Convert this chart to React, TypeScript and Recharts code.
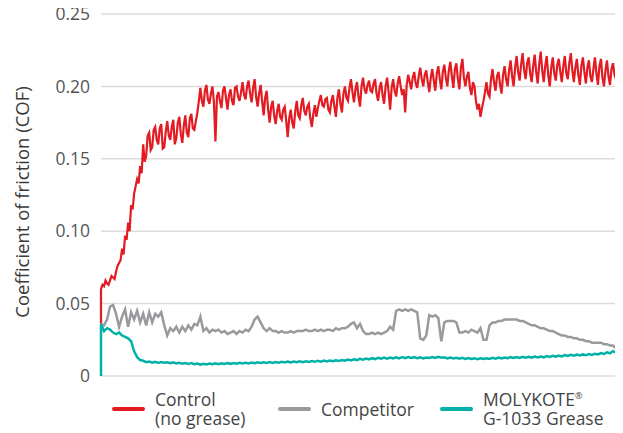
import { LineChart, Line, XAxis, YAxis, CartesianGrid } from "recharts";

// control (no grease): read at half-sample steps; first entry is the start value at t = 0
const control = [
  0.036,
  0.06, 0.063, 0.062, 0.066, 0.064, 0.063, 0.066, 0.069, 0.068, 0.067,
  0.072, 0.076, 0.078, 0.08, 0.088, 0.084, 0.097, 0.094, 0.106, 0.1,
  0.118, 0.115, 0.126, 0.131, 0.136, 0.133, 0.145, 0.14, 0.16, 0.148,
  0.152, 0.166, 0.168, 0.156, 0.158, 0.17, 0.172, 0.163, 0.16, 0.171,
  0.174, 0.157, 0.158, 0.169, 0.176, 0.166, 0.163, 0.172, 0.177, 0.16,
  0.164, 0.175, 0.179, 0.167, 0.161, 0.173, 0.18, 0.168, 0.165, 0.178,
  0.181, 0.171, 0.17, 0.176, 0.182, 0.19, 0.199, 0.19, 0.186, 0.197,
  0.201, 0.191, 0.188, 0.195, 0.2, 0.189, 0.162, 0.193, 0.196, 0.19,
  0.185, 0.197, 0.2, 0.192, 0.184, 0.194, 0.198, 0.19, 0.187, 0.199,
  0.2, 0.193, 0.19, 0.196, 0.203, 0.194, 0.191, 0.2, 0.204, 0.195,
  0.189, 0.199, 0.205, 0.193, 0.186, 0.195, 0.201, 0.19, 0.18, 0.192,
  0.197, 0.184, 0.175, 0.186, 0.19, 0.18, 0.174, 0.183, 0.188, 0.179,
  0.177, 0.184, 0.186, 0.176, 0.165, 0.178, 0.184, 0.175, 0.171, 0.183,
  0.19, 0.18, 0.178, 0.187, 0.192, 0.183, 0.18, 0.186, 0.188, 0.178,
  0.172, 0.181, 0.187, 0.179, 0.185, 0.19, 0.194, 0.187, 0.186, 0.191,
  0.192, 0.184, 0.182, 0.19, 0.194, 0.186, 0.179, 0.192, 0.198, 0.188,
  0.182, 0.195, 0.2, 0.192, 0.19, 0.199, 0.205, 0.196, 0.189, 0.198,
  0.203, 0.193, 0.186, 0.2, 0.206, 0.198, 0.195, 0.201, 0.204, 0.197,
  0.196, 0.202, 0.205, 0.195, 0.19, 0.199, 0.203, 0.194, 0.188, 0.2,
  0.206, 0.196, 0.184, 0.199, 0.205, 0.197, 0.193, 0.202, 0.207, 0.2,
  0.194, 0.198, 0.182, 0.201, 0.208, 0.203, 0.198, 0.206, 0.21, 0.202,
  0.199, 0.207, 0.213, 0.205, 0.2, 0.208, 0.211, 0.203, 0.196, 0.206,
  0.212, 0.204, 0.197, 0.209, 0.214, 0.205, 0.198, 0.21, 0.215, 0.206,
  0.2, 0.211, 0.217, 0.207, 0.199, 0.212, 0.216, 0.205, 0.198, 0.213,
  0.219, 0.206, 0.2, 0.207, 0.21, 0.199, 0.194, 0.203, 0.2, 0.19,
  0.184, 0.188, 0.179, 0.185, 0.19, 0.196, 0.203, 0.195, 0.193, 0.205,
  0.212, 0.203, 0.197, 0.207, 0.21, 0.201, 0.195, 0.208, 0.214, 0.205,
  0.2, 0.211, 0.218, 0.207, 0.2, 0.213, 0.221, 0.21, 0.204, 0.215,
  0.223, 0.211, 0.205, 0.216, 0.22, 0.209, 0.203, 0.214, 0.222, 0.21,
  0.202, 0.215, 0.224, 0.211, 0.203, 0.214, 0.221, 0.208, 0.2, 0.213,
  0.22, 0.209, 0.204, 0.215, 0.219, 0.21, 0.203, 0.214, 0.221, 0.209,
  0.205, 0.216, 0.223, 0.211, 0.203, 0.213, 0.219, 0.208, 0.201, 0.214,
  0.22, 0.21, 0.202, 0.213, 0.218, 0.207, 0.203, 0.212, 0.22, 0.209,
  0.201, 0.214, 0.219, 0.206, 0.2, 0.211, 0.218, 0.207, 0.201, 0.212,
  0.216, 0.208, 0.205,
];

// competitor and MOLYKOTE: one reading per sample; first entry is the start value at t = 0
const competitor = [
  0.036,
  0.036, 0.035, 0.039, 0.048, 0.049, 0.043, 0.034, 0.041, 0.046, 0.034,
  0.044, 0.039, 0.045, 0.037, 0.043, 0.035, 0.044, 0.037, 0.043, 0.041,
  0.044, 0.035, 0.028, 0.033, 0.031, 0.034, 0.03, 0.034, 0.031, 0.035,
  0.032, 0.036, 0.035, 0.041, 0.031, 0.033, 0.03, 0.032, 0.031, 0.032,
  0.03, 0.031, 0.029, 0.03, 0.031, 0.029, 0.031, 0.03, 0.032, 0.031,
  0.034, 0.039, 0.041, 0.037, 0.033, 0.031, 0.033, 0.031, 0.031, 0.03,
  0.031, 0.03, 0.03, 0.031, 0.03, 0.031, 0.031, 0.031, 0.032, 0.031,
  0.031, 0.032, 0.031, 0.032, 0.031, 0.032, 0.032, 0.031, 0.033, 0.032,
  0.033, 0.033, 0.034, 0.036, 0.037, 0.033, 0.036, 0.031, 0.029, 0.029,
  0.03, 0.029, 0.03, 0.029, 0.03, 0.031, 0.034, 0.032, 0.045, 0.046,
  0.045, 0.046, 0.045, 0.046, 0.045, 0.044, 0.026, 0.025, 0.028, 0.042,
  0.041, 0.042, 0.04, 0.024, 0.037, 0.038, 0.038, 0.038, 0.037, 0.03,
  0.03, 0.031, 0.03, 0.032, 0.031, 0.03, 0.033, 0.025, 0.025, 0.035,
  0.037, 0.037, 0.038, 0.038, 0.039, 0.039, 0.039, 0.039, 0.039, 0.038,
  0.038, 0.037, 0.036, 0.035, 0.035, 0.034, 0.033, 0.033, 0.032, 0.031,
  0.031, 0.03, 0.029, 0.028, 0.028, 0.027, 0.027, 0.026, 0.026, 0.025,
  0.025, 0.024, 0.024, 0.023, 0.023, 0.023, 0.023, 0.022, 0.022, 0.021,
  0.021, 0.019,
];

const molykote = [
  0,
  0.036, 0.031, 0.033, 0.032, 0.03, 0.029, 0.03, 0.028, 0.027, 0.026,
  0.024, 0.017, 0.013, 0.011, 0.0105, 0.0095, 0.01, 0.0092, 0.0098, 0.009,
  0.0097, 0.0091, 0.0095, 0.0088, 0.0094, 0.0087, 0.0092, 0.0085, 0.009, 0.0083,
  0.0089, 0.0082, 0.0086, 0.0078, 0.0085, 0.008, 0.0086, 0.0081, 0.0087, 0.0082,
  0.0088, 0.0083, 0.0089, 0.0084, 0.009, 0.0085, 0.0091, 0.0086, 0.0092, 0.0087,
  0.0093, 0.0088, 0.0094, 0.009, 0.0095, 0.009, 0.0096, 0.009, 0.0097, 0.0092,
  0.0098, 0.0093, 0.0099, 0.0094, 0.01, 0.0095, 0.0101, 0.0096, 0.0102, 0.0097,
  0.0104, 0.0098, 0.0105, 0.0099, 0.0106, 0.01, 0.0107, 0.0102, 0.0109, 0.0104,
  0.0111, 0.0106, 0.0113, 0.0108, 0.0116, 0.011, 0.0119, 0.0113, 0.0121, 0.0115,
  0.0123, 0.0117, 0.0125, 0.0119, 0.0127, 0.012, 0.0128, 0.0121, 0.0129, 0.0122,
  0.013, 0.0123, 0.0131, 0.0124, 0.013, 0.0123, 0.0129, 0.0122, 0.0128, 0.0124,
  0.0131, 0.0125, 0.0133, 0.0126, 0.013, 0.0122, 0.0127, 0.0121, 0.0126, 0.012,
  0.0125, 0.0118, 0.0124, 0.0117, 0.0123, 0.0116, 0.0122, 0.0117, 0.0123, 0.0118,
  0.0125, 0.012, 0.0127, 0.0121, 0.0128, 0.0123, 0.013, 0.0124, 0.0131, 0.0125,
  0.0132, 0.0126, 0.0133, 0.0127, 0.0134, 0.0128, 0.0135, 0.0129, 0.0137, 0.0131,
  0.0139, 0.0133, 0.0141, 0.0135, 0.0144, 0.0138, 0.0146, 0.014, 0.0148, 0.0142,
  0.0149, 0.0143, 0.0151, 0.0146, 0.0154, 0.0149, 0.0158, 0.0152, 0.0163, 0.0157,
  0.0172, 0.0162,
];

const yTicks = [0, 0.05, 0.1, 0.15, 0.2, 0.25];

const series = [
  { key: "control", color: "#e31b23", width: 2.2, label: ["Control", "(no grease)"] },
  { key: "competitor", color: "#9a9a9e", width: 2.5, label: ["Competitor"] },
  { key: "molykote", color: "#00b1a9", width: 2.5, label: ["MOLYKOTE®", "G-1033 Grease"] },
];

// sample index; the leading row repeats t = 0 so the start jumps draw vertically
const controlRows = control.map((v, i) => ({ t: i === 0 ? 0 : (i - 1) / 2, control: v }));
const rows = competitor.map((v, i) => ({
  t: i === 0 ? 0 : i - 1,
  competitor: v,
  molykote: molykote[i],
}));

const FONT = "'Open Sans', 'DejaVu Sans', sans-serif";

function AxisTitle({ viewBox }: { viewBox?: { x: number; y: number; width: number; height: number } }) {
  if (!viewBox) return null;
  const cx = 21;
  const cy = viewBox.y + viewBox.height / 2 + 7;
  return (
    <text
      x={cx}
      y={cy}
      transform={`rotate(-90 ${cx} ${cy})`}
      textAnchor="middle"
      dominantBaseline="central"
      fontSize={18.5}
      fill="#3a3a3a"
      fontFamily={FONT}
    >
      Coefficient of friction (COF)
    </text>
  );
}

function LegendLabel({ lines }: { lines: string[] }) {
  return (
    <div style={{ lineHeight: "19px" }}>
      {lines.map((l) =>
        l.endsWith("®") ? (
          <div key={l}>
            {l.slice(0, -1)}
            <sup style={{ fontSize: 9, lineHeight: 0, verticalAlign: "7px" }}>®</sup>
          </div>
        ) : (
          <div key={l}>{l}</div>
        )
      )}
    </div>
  );
}

// legend item positions inside the 8px body margin
const legendLeft = [104, 270, 432];

export default function App() {
  return (
    <div style={{ position: "relative", width: 615, height: 425, fontFamily: FONT }}>
      <div style={{ position: "absolute", left: -8, top: -8 }}>
        <LineChart width={616} height={392} data={rows} margin={{ top: 14, right: 0, bottom: 16, left: 0 }}>
          <CartesianGrid vertical={false} stroke="#dcdcdc" strokeWidth={1.5} />
          <XAxis dataKey="t" type="number" domain={[0, 171]} hide />
          <YAxis
            width={101}
            domain={[0, 0.25]}
            ticks={yTicks}
            interval={0}
            axisLine={false}
            tickLine={false}
            tickMargin={5}
            tick={{ fontSize: 17.5, fill: "#555", fontFamily: FONT }}
            tickFormatter={(v: number) => (v === 0 ? "0" : v.toFixed(2))}
            label={<AxisTitle />}
          />
          <Line
            data={controlRows}
            type="linear"
            dataKey="control"
            stroke={series[0].color}
            strokeWidth={series[0].width}
            dot={false}
            activeDot={false}
            isAnimationActive={false}
          />
          {series.slice(1).map((s) => (
            <Line
              key={s.key}
              type="linear"
              dataKey={s.key}
              stroke={s.color}
              strokeWidth={s.width}
              dot={false}
              activeDot={false}
              isAnimationActive={false}
            />
          ))}
        </LineChart>
      </div>
      {series.map((s, i) => (
        <div
          key={s.key}
          style={{
            position: "absolute",
            left: legendLeft[i],
            top: 382,
            height: 38,
            display: "flex",
            alignItems: "center",
            fontSize: 17.5,
            color: "#444",
          }}
        >
          <div style={{ width: 33, height: 4, borderRadius: 2, background: s.color, marginRight: 10 }} />
          <LegendLabel lines={s.label} />
        </div>
      ))}
    </div>
  );
}
